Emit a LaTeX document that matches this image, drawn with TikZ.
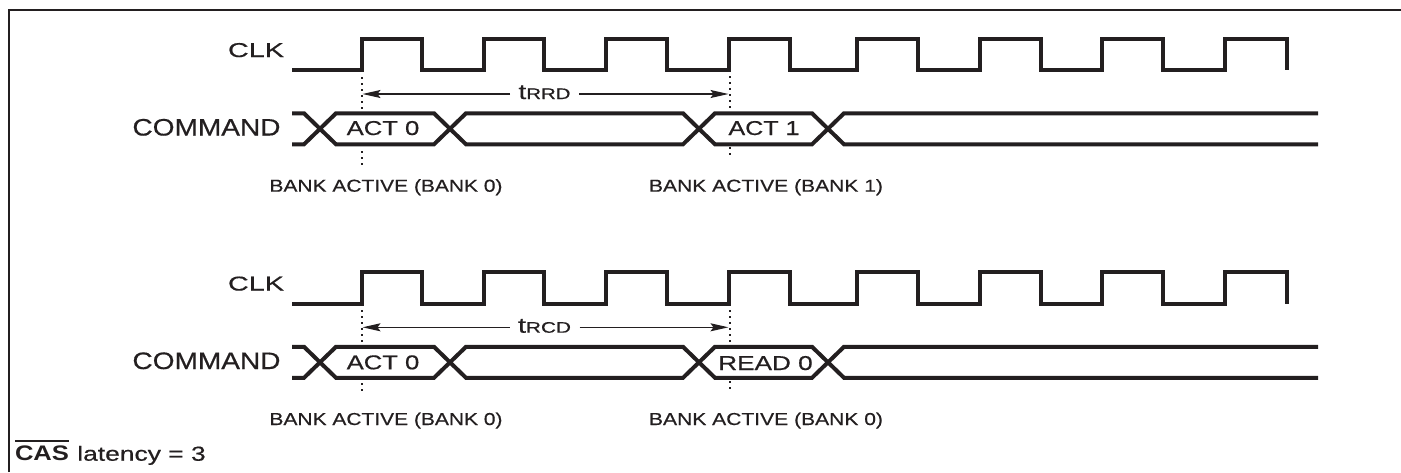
\documentclass[tikz,border=0pt]{standalone}
\usepackage{fontspec}
\setmainfont{Liberation Sans}
\newfontfamily\lblfont[FakeBold=0.5]{Liberation Sans}
\usepackage{graphicx}
\usetikzlibrary{arrows.meta}
\definecolor{ink}{HTML}{231F20}
\newcommand{\fitbox}[3]{\resizebox{#1pt}{#2pt}{\lblfont #3}}
\newcommand{\tsub}[1]{{\fontsize{18}{20}\selectfont t}{\fontsize{13}{15}\selectfont #1}}
\tikzset{
  wave/.style={line width=4pt, draw=ink, line join=miter, line cap=butt},
  frameline/.style={line width=2pt, draw=ink, line join=miter},
  guide/.style={draw=ink, line width=2pt, dash pattern=on 2pt off 4pt},
  dimarrow/.style={draw=ink, line width=1.3pt, -{Stealth[length=18pt,width=8pt,inset=3pt]}},
  lbl/.style={inner sep=0pt, outer sep=0pt, text=ink, anchor=base},
  lblr/.style={lbl, anchor=base east},
  dimlbl/.style={lbl, outer xsep=8.5pt},
}
\begin{document}
\begin{tikzpicture}[x=1pt,y=-1pt]
\useasboundingbox (0,0) rectangle (1401,472);
% frame
\draw[frameline] (8.5,472) -- (8.5,9.5) -- (1401,9.5);

% waveforms (top and bottom)
\foreach \dy in {0,233.5}{
  \begin{scope}[yshift=-\dy pt]
    \draw[wave] (292,70) \foreach \r/\f in {362/422,484/544,606/667,729/790,857/918,980/1041,1102/1163,1225/1287}
      { -- (\r,70) -- (\r,38.5) -- (\f,38.5) -- (\f,70) };
    \draw[wave] (292,113.3) -- (304,113.3) -- (336,144.3) -- (434,144.3) -- (466,113.3)
      -- (683,113.3) -- (715,144.3) -- (812,144.3) -- (844,113.3) -- (1318,113.3);
    \draw[wave] (292,144.3) -- (304,144.3) -- (336,113.3) -- (434,113.3) -- (466,144.3)
      -- (683,144.3) -- (715,113.3) -- (812,113.3) -- (844,144.3) -- (1318,144.3);
  \end{scope}
}

% dotted guides (interrupted inside the bus)
\draw[guide] (361.5,77) -- (361.5,109);
\draw[guide] (361.5,151) -- (361.5,168);
\draw[guide] (729.5,76) -- (729.5,108);
\draw[guide] (729.5,147) -- (729.5,157);
\draw[guide] (361.5,310) -- (361.5,342);
\draw[guide] (361.5,383) -- (361.5,393);
\draw[guide] (729.5,310) -- (729.5,342);
\draw[guide] (729.5,381) -- (729.5,391);

% top labels
\node[lblr] (clk1) at (284,57) {\fitbox{56}{14}{CLK}};
\node[lblr] (cmd1) at (280.5,135.5) {\fitbox{148}{16.6}{COMMAND}};
\node[lbl] (act0a) at (383,135) {\fitbox{72.6}{14}{ACT 0}};
\node[lbl] (act1) at (764,135) {\fitbox{71}{14}{ACT 1}};
\node[lbl] (bank0a) at (386,191.7) {\fitbox{233}{12.5}{BANK ACTIVE (BANK 0)}};
\node[lbl] (bank1) at (766,191.7) {\fitbox{234}{12.5}{BANK ACTIVE (BANK 1)}};
\node[dimlbl] (trrd) at (544.5,99) {\fitbox{52}{13.7}{\tsub{RRD}}};
\coordinate (rrdL) at (362.5,94);
\coordinate (rrdR) at (728.5,94);
\draw[dimarrow] (trrd.west |- rrdL) -- (rrdL);
\draw[dimarrow] (trrd.east |- rrdR) -- (rrdR);

% bottom labels
\node[lblr] (clk2) at (284,290.5) {\fitbox{56}{14}{CLK}};
\node[lblr] (cmd2) at (280.5,369) {\fitbox{148}{16.6}{COMMAND}};
\node[lbl] (act0b) at (383,369.3) {\fitbox{72.6}{14}{ACT 0}};
\node[lbl] (read0) at (765.5,370) {\fitbox{94.4}{14}{READ 0}};
\node[lbl] (bank0b) at (386,425) {\fitbox{233}{12.5}{BANK ACTIVE (BANK 0)}};
\node[lbl] (bank0c) at (766,425) {\fitbox{234}{12.5}{BANK ACTIVE (BANK 0)}};
\node[dimlbl] (trcd) at (544.5,332.7) {\fitbox{53}{13.7}{\tsub{RCD}}};
\coordinate (rcdL) at (362.5,327.3);
\coordinate (rcdR) at (728.5,327.3);
\draw[dimarrow] (trcd.west |- rcdL) -- (rcdL);
\draw[dimarrow] (trcd.east |- rcdR) -- (rcdR);

% CAS latency
\node[lbl, anchor=base west] (cas) at (15,460.7) {\resizebox{54pt}{14.7pt}{\bfseries CAS}};
\node[lbl, anchor=base west] (lat) at (77.3,460.7) {\fitbox{128.4}{14.7}{latency = 3}};
\draw[draw=ink, line width=1.8pt] ([yshift=5.3pt]cas.north west) -- ([yshift=5.3pt]cas.north east);
\end{tikzpicture}
\end{document}
